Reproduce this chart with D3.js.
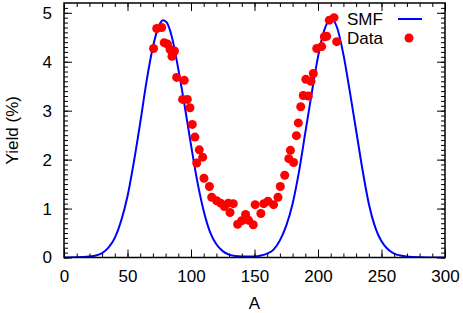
<!DOCTYPE html>
<html>
<head>
<meta charset="utf-8">
<script src="https://cdn.jsdelivr.net/npm/d3@7"></script>
<style>
  body { margin: 0; background: #fff; }
  text { font-family: "Liberation Sans", Arial, sans-serif; fill: #000; }
</style>
</head>
<body>
<div id="chart"></div>
<script>
// SMF curve
var smfA = [0, 10, 20, 25, 30, 35, 40, 45, 50, 55, 60, 65, 70, 75, 78, 81, 85, 90, 95, 100,
    105, 110, 115, 120, 125, 130, 135, 140, 145, 150, 155, 160, 165, 170, 175, 180, 185, 190,
    195, 200, 205, 210.5, 215, 220, 225, 230, 235, 240, 245, 250, 255, 260, 265, 270, 280, 290, 300];
var smfY = [0, 0.003, 0.02, 0.04, 0.09, 0.2, 0.4, 0.75, 1.25, 1.95, 2.75, 3.6, 4.3, 4.75, 4.85, 4.8, 4.5, 3.85, 3.1, 2.3,
    1.55, 0.95, 0.52, 0.27, 0.13, 0.06, 0.03, 0.02, 0.02, 0.02, 0.04, 0.08, 0.16, 0.35, 0.65, 1.1, 1.75, 2.55,
    3.35, 4.1, 4.65, 4.88, 4.7, 4.15, 3.4, 2.6, 1.8, 1.1, 0.62, 0.33, 0.17, 0.08, 0.04, 0.02, 0.005, 0.001, 0];

// measured yields
var dataA = [70.5, 73.0, 76.9, 78.9, 81.5, 83.5, 85.0, 87.0, 88.7, 94.7, 93.4, 97.1, 99.2, 101.0, 103.1,
    106.5, 109.2, 104.5, 110.2, 114.5, 116.3, 120.2, 123.4, 126.2, 129.4, 133.3, 130.7, 136.7, 139.9,
    143.0, 145.3, 149.0, 150.5, 155.0, 157.3, 160.6, 165.0, 168.5, 170.3, 173.8, 177.0, 180.8, 178.3,
    183.0, 184.5, 186.4, 188.4, 192.4, 190.4, 194.5, 196.3, 199.0, 202.9, 205.0, 206.8, 208.9, 212.6, 214.7];
var dataY = [4.27, 4.68, 4.70, 4.39, 4.36, 4.25, 4.11, 4.22, 3.68, 3.62, 3.23, 3.23, 3.06, 2.72, 2.46,
    2.20, 2.05, 1.93, 1.62, 1.45, 1.23, 1.16, 1.11, 1.04, 1.11, 1.10, 0.92, 0.68, 0.75,
    0.88, 0.76, 0.67, 1.08, 0.90, 1.10, 1.15, 1.08, 1.23, 1.45, 1.68, 2.02, 1.94, 2.19,
    2.49, 2.75, 3.08, 3.31, 3.30, 3.64, 3.60, 3.76, 4.27, 4.31, 4.51, 4.52, 4.85, 4.90, 4.41];

var xTicks = [0, 50, 100, 150, 200, 250, 300];
var yTicks = [0, 1, 2, 3, 4, 5];
var xMinor = d3.range(0, 301, 10);
var yMinor = d3.range(0, 52, 1).map(function(d) { return d / 10; });

var legendNames = ["SMF", "Data"];

var W = 463, H = 313;
var margin = {top: 3, right: 18, bottom: 55.5, left: 64};
var width = W - margin.left - margin.right;
var height = H - margin.top - margin.bottom;

var svg = d3.select("#chart").append("svg")
    .attr("width", W)
    .attr("height", H);

var g = svg.append("g")
    .attr("transform", "translate(" + margin.left + "," + margin.top + ")");

var x = d3.scaleLinear().domain([0, 300]).range([0, width]);
var y = d3.scaleLinear().domain([0, 5.2]).range([height, 0]);

g.append("clipPath").attr("id", "clip")
    .append("rect").attr("width", width).attr("height", height);

// SMF curve
var smf = smfA.map(function(a, i) { return [a, smfY[i]]; });
g.append("path")
    .datum(smf)
    .attr("clip-path", "url(#clip)")
    .attr("fill", "none")
    .attr("stroke", "#0000ff")
    .attr("stroke-width", 2)
    .attr("d", d3.line()
        .curve(d3.curveMonotoneX)
        .x(function(d) { return x(d[0]); })
        .y(function(d) { return y(d[1]); }));

// data points
g.selectAll("circle.pt")
    .data(dataA.map(function(a, i) { return [a, dataY[i]]; }))
    .enter().append("circle")
    .attr("class", "pt")
    .attr("cx", function(d) { return x(d[0]); })
    .attr("cy", function(d) { return y(d[1]); })
    .attr("r", 4.5)
    .attr("fill", "#ff0000");

// axes, ticks inside on all four sides (gnuplot style)
function addAxis(axis, tr) {
    var a = g.append("g").attr("transform", tr).call(axis);
    a.select(".domain").remove();
    a.selectAll("line").attr("stroke", "#000").attr("stroke-width", 1);
    return a;
}
var fmt = d3.format("d");
var bx = addAxis(d3.axisBottom(x).tickValues(xTicks).tickSizeInner(-8).tickPadding(12).tickFormat(fmt),
    "translate(0," + height + ")");
addAxis(d3.axisBottom(x).tickValues(xMinor).tickSizeInner(-4).tickFormat(""), "translate(0," + height + ")");
addAxis(d3.axisTop(x).tickValues(xTicks).tickSizeInner(-8).tickFormat(""), "translate(0,0)");
addAxis(d3.axisTop(x).tickValues(xMinor).tickSizeInner(-4).tickFormat(""), "translate(0,0)");
var ly = addAxis(d3.axisLeft(y).tickValues(yTicks).tickSizeInner(-8).tickPadding(12).tickFormat(fmt),
    "translate(0,0)");
addAxis(d3.axisLeft(y).tickValues(yMinor).tickSizeInner(-4).tickFormat(""), "translate(0,0)");
addAxis(d3.axisRight(y).tickValues(yTicks).tickSizeInner(-8).tickFormat(""), "translate(" + width + ",0)");
addAxis(d3.axisRight(y).tickValues(yMinor).tickSizeInner(-4).tickFormat(""), "translate(" + width + ",0)");

g.selectAll(".tick text")
    .style("font-size", "17px")
    .style("font-family", "'Liberation Sans', Arial, sans-serif");

// frame
g.append("rect")
    .attr("width", width)
    .attr("height", height)
    .attr("fill", "none")
    .attr("stroke", "#000")
    .attr("stroke-width", 1.5);

// axis titles
svg.append("text")
    .attr("x", margin.left + width / 2)
    .attr("y", 309)
    .attr("text-anchor", "middle")
    .style("font-size", "17px")
    .text("A");

svg.append("text")
    .attr("transform", "translate(18," + (margin.top + height / 2) + ")rotate(-90)")
    .attr("text-anchor", "middle")
    .style("font-size", "17px")
    .text("Yield (%)");

// legend
var leg = svg.append("g");
leg.selectAll("text")
    .data(legendNames)
    .enter().append("text")
    .attr("x", 347)
    .attr("y", function(d, i) { return 25 + i * 19; })
    .style("font-size", "17px")
    .text(function(d) { return d; });
leg.append("line")
    .attr("x1", 398).attr("x2", 422)
    .attr("y1", 19).attr("y2", 19)
    .attr("stroke", "#0000ff")
    .attr("stroke-width", 2);
leg.append("circle")
    .attr("cx", 409).attr("cy", 38)
    .attr("r", 4.5)
    .attr("fill", "#ff0000");
</script>
</body>
</html>
